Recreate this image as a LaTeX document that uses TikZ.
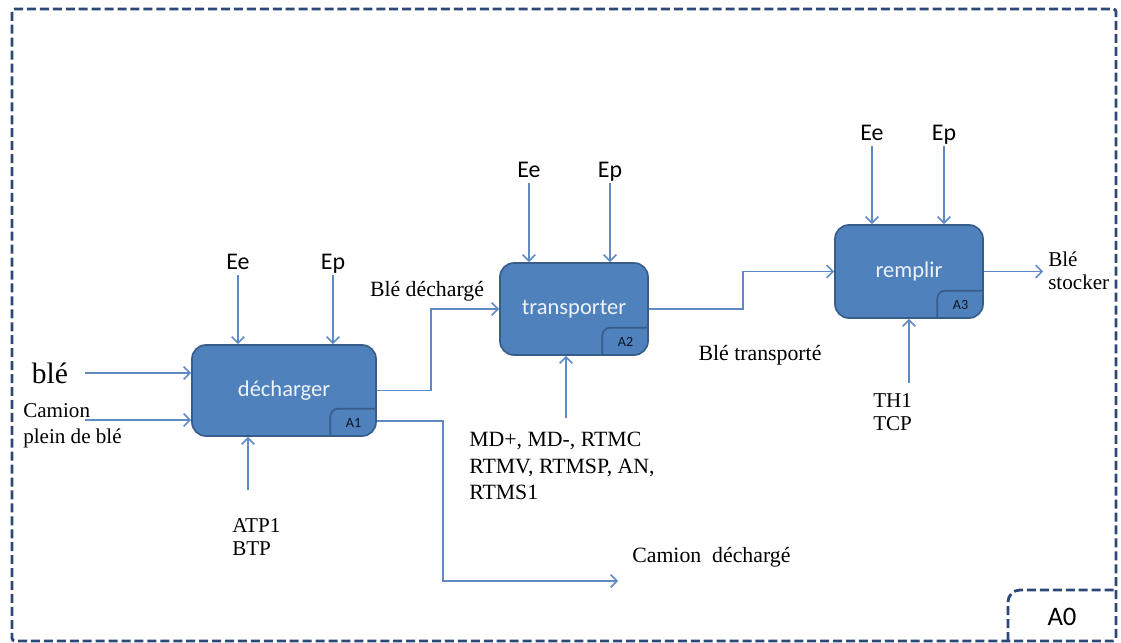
\documentclass[tikz,border=0pt]{standalone}
\usepackage{fontspec}
\setmainfont{Liberation Serif}
\newfontfamily\calibri{Carlito}
\usepackage{tikz}
\usepackage{xcolor}
\definecolor{BoxBlue}{RGB}{79, 129, 189}
\definecolor{BoxEdge}{RGB}{56, 93, 138}
\definecolor{FlowBlue}{RGB}{96, 138, 198}
\definecolor{FrameNavy}{RGB}{44, 72, 118}
\usetikzlibrary{arrows.meta, positioning}

\begin{document}
\begin{tikzpicture}[x=0.025cm, y=-0.025cm,
    activity/.style={rectangle, rounded corners=0.35cm, draw=BoxEdge, line width=1.2pt, fill=BoxBlue, text=white!90!BoxBlue, font=\calibri\fontsize{16}{18}\selectfont, inner sep=0pt},
    tab/.style={rectangle, minimum width=1.15cm, minimum height=0.69cm, inner sep=0pt, font=\calibri\fontsize{10}{12}\selectfont, text=black!80!BoxEdge},
    tabline/.style={draw=BoxEdge, line width=1.2pt, rounded corners=0.2cm},
    flow/.style={-{Straight Barb[length=4.5pt, width=9pt]}, FlowBlue, line width=1.1pt},
    note/.style={font=\fontsize{15.5}{19}\selectfont, align=left, inner sep=0pt},
    ctrl/.style={font=\calibri\fontsize{17}{20}\selectfont, inner sep=0pt, text height=0.65em, text depth=0.2em},
    frame/.style={draw=FrameNavy, line width=2pt, dash pattern=on 6.4pt off 2.8pt}
]
\useasboundingbox (0,0) rectangle (1121,643);

% Outer frame
\draw[frame, rounded corners=2pt] (12,9) rectangle (1116,641);
\draw[frame, rounded corners=0.3cm] (1008,641) |- (1116,590);
\node[font=\calibri\fontsize{19}{22}\selectfont] (a0) at (1062,617) {A0};

% Activities
\node[activity, minimum width=4.6cm, minimum height=2.275cm] (dech) at (284,390.5) {décharger};
\node[activity, minimum width=3.7cm, minimum height=2.3cm] (trans) at (574,309) {transporter};
\node[activity, minimum width=3.7cm, minimum height=2.325cm] (rempl) at (909,271.5) {remplir};

% Tabs
\node[tab, anchor=south east] (t1) at (dech.south east) {A1};
\node[tab, anchor=south east] (t2) at (trans.south east) {A2};
\node[tab, anchor=south east] (t3) at (rempl.south east) {A3};
\draw[tabline] (t1.south west) |- (t1.north east);
\draw[tabline] (t2.south west) |- (t2.north east);
\draw[tabline] (t3.south west) |- (t3.north east);

% Controls
\node[ctrl] (ee1) at (238,266) {Ee};
\node[ctrl] (ep1) at (333,266) {Ep};
\node[ctrl] (ee2) at (529,174) {Ee};
\node[ctrl] (ep2) at (610,174) {Ep};
\node[ctrl] (ee3) at (872,137) {Ee};
\node[ctrl] (ep3) at (944,137) {Ep};
\foreach \c/\a in {ee1/dech, ep1/dech, ee2/trans, ep2/trans, ee3/rempl, ep3/rempl} {
    \draw[flow] ([yshift=-2pt]\c.south) -- (\c.south |- \a.north);
}

% Inputs
\node[font=\fontsize{21}{24}\selectfont, inner sep=0pt] (ble) at (50,373) {blé};
\node[note, anchor=west, font=\fontsize{15}{18.5}\selectfont] (camion) at (23,426) {Camion\\plein de blé};
\coordinate (in1) at (85,373);
\coordinate (in2) at (85,420);
\draw[flow] (in1) -- (in1 -| dech.west);
\draw[flow] (in2) -- (in2 -| dech.west);

% Mechanisms
\coordinate (m1) at (248,490);
\coordinate (m2) at (566,418);
\coordinate (m3) at (909,383);
\draw[flow] (m1) -- (m1 |- dech.south);
\draw[flow] (m2) -- (m2 |- trans.south);
\draw[flow] (m3) -- (m3 |- rempl.south);
\node[note, anchor=west, font=\fontsize{15}{16.5}\selectfont] (atp) at (232,537) {ATP1\\BTP};
\node[note, anchor=west] (md) at (469,466) {MD+, MD-, RTMC\\RTMV, RTMSP, AN,\\RTMS1};
\node[note, anchor=west, font=\fontsize{15}{16}\selectfont] (th) at (873,412) {TH1\\TCP};

% Outputs
\node[note] (bled) at (427,291) {Blé déchargé};
\node[note] (blet) at (760,355) {Blé transporté};
\node[note, anchor=west] (camd) at (632,557) {Camion\ \ déchargé};
\node[note, anchor=west, font=\fontsize{15}{16}\selectfont] (bles) at (1048,271) {Blé\\stocker};
\coordinate (out1) at (618,581);
\coordinate (out3) at (1043,271.5);
\draw[flow] (dech.east) -- ++(54,0) |- (trans.west);
\draw[flow] ([yshift=-0.76cm]dech.east) -- ++(66,0) |- (out1);
\draw[flow] (trans.east) -- ++(94,0) |- (rempl.west);
\draw[flow] (rempl.east) -- (out3);

\end{tikzpicture}
\end{document}
